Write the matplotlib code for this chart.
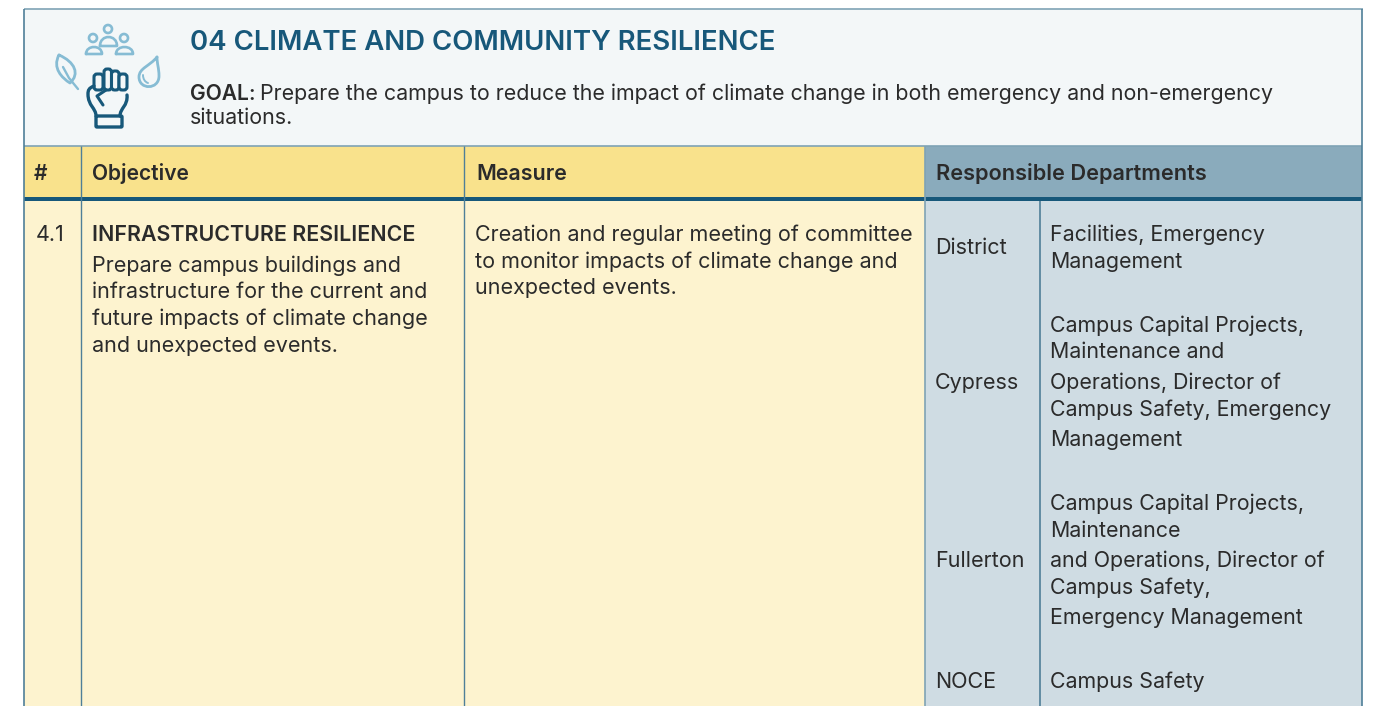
import matplotlib
matplotlib.use("Agg")
import matplotlib.pyplot as plt
from matplotlib.patches import Rectangle, Circle, PathPatch, FancyBboxPatch
from matplotlib.path import Path

TITLE = "04 CLIMATE AND COMMUNITY RESILIENCE"
GOAL_LABEL = "GOAL:"
GOAL_LINE1 = "Prepare the campus to reduce the impact of climate change in both emergency and non-emergency"
GOAL_LINE2 = "situations."
HEADERS = ["#", "Objective", "Measure", "Responsible Departments"]
ROW_NUM = "4.1"
OBJ_TITLE = "INFRASTRUCTURE RESILIENCE"
OBJ_LINES = ["Prepare campus buildings and", "infrastructure for the current and",
             "future impacts of climate change", "and unexpected events."]
MEASURE_LINES = ["Creation and regular meeting of committee",
                 "to monitor impacts of climate change and", "unexpected events."]
DEPTS = ["District", "Cypress", "Fullerton", "NOCE"]
DEPT_LINES = [
    ["Facilities, Emergency", "Management"],
    ["Campus Capital Projects,", "Maintenance and", "Operations, Director of",
     "Campus Safety, Emergency", "Management"],
    ["Campus Capital Projects,", "Maintenance", "and Operations, Director of",
     "Campus Safety,", "Emergency Management"],
    ["Campus Safety"],
]
OBJ_Y = [272, 298, 325, 352]
MEASURE_Y = [241, 268, 294]
DEPT_Y = [254, 389, 567, 688]
DEPT_LINE_Y = [[241, 268], [332, 358, 389, 416, 446], [510, 537, 567, 594, 624], [688]]

W, H = 1378, 706
FONT = "Inter"
INK, TEAL, LINE, SKY = "#2b2b2b", "#17587a", "#4f7f98", "#86bcd4"
BG = "#f3f7f8"
BODY = 15.5
plt.rcParams["font.family"] = [FONT, "DejaVu Sans"]
fig = plt.figure(figsize=(W / 100, H / 100), dpi=100, facecolor="white")
ax = fig.add_axes([0, 0, 1, 1])
ax.set_xlim(0, W)
ax.set_ylim(H, 0)
ax.axis("off")

def rect(x0, y0, x1, y1, c):
    ax.add_patch(Rectangle((x0, y0), x1 - x0, y1 - y0, fc=c, ec="none", zorder=1))

def vline(x, y0, y1, c=LINE, lw=1.0):
    ax.plot([x, x], [y0, y1], color=c, lw=lw, zorder=3, solid_capstyle="butt")

def hline(y, x0, x1, c=LINE, lw=1.0):
    ax.plot([x0, x1], [y, y], color=c, lw=lw, zorder=3, solid_capstyle="butt")

def txt(x, y, s, size=BODY, weight="normal", color=INK):
    return ax.text(x, y, s, fontsize=size, fontweight=weight, color=color,
                   va="baseline", ha="left", zorder=5)

# Panels
rect(24, 9, 1362, 146, BG)
rect(24, 146, 925, 197, "#f9e28c")
rect(925, 146, 1362, 197, "#8aabbc")
rect(24, 201, 925, H, "#fdf3cf")
rect(925, 201, 1362, H, "#cfdce3")
rect(24, 196.5, 1362, 201, TEAL)

# Rules
hline(8.8, 23.5, 1362.5, "#7fa3b5", 1.2)
hline(146, 24, 1362, "#7fa3b5", 1.2)
vline(24, 9, H, LINE, 1.2)
vline(1362, 9, H, LINE, 1.2)
for x in (81, 464):
    vline(x, 146, H, LINE, 1.0)
vline(924.6, 146, H, "#7fa3b5", 1.2)
vline(1039.6, 201, H, LINE, 1.2)

# Icon
M, C, L = Path.MOVETO, Path.CURVE4, Path.LINETO

def stroke(pts, c, lw=2.0):
    ax.plot([p[0] for p in pts], [p[1] for p in pts], color=c, lw=lw, zorder=4,
            solid_capstyle="round", solid_joinstyle="round")

def curve(verts, codes, c, lw=2.0, fc="none", z=4):
    ax.add_patch(PathPatch(Path(verts, codes), fc=fc, ec=c, lw=lw, zorder=z,
                           capstyle="round", joinstyle="round"))

def person(cx, cy, r, x0, x1, ytop, ybot):
    ax.add_patch(Circle((cx, cy), r, fc="none", ec=SKY, lw=1.9, zorder=4))
    ctrl = ybot - (ybot - ytop) / 0.75
    curve([(x0, ybot), (x0, ctrl), (x1, ctrl), (x1, ybot), (x0, ybot)],
          [M, C, C, C, L], SKY, 1.9)

person(108, 29, 4, 100, 117, 37, 46)
person(93, 38, 4, 86, 102, 47, 54)
person(124, 38, 4, 116, 133, 47, 54)
# Leaf
curve([(59, 55), (52, 68), (62, 78), (70, 83), (80, 74), (75, 62), (59, 55)],
      [M, C, C, C, C, C, C], SKY)
stroke([(63, 67), (69, 78), (78, 89)], SKY, 1.7)
# Drop
curve([(157, 57), (150, 66), (139, 68), (139, 77), (139, 90), (159, 90), (159, 76), (159, 68), (157, 64), (157, 57)],
      [M, C, C, C, C, C, C, C, C, C], SKY)
curve([(143, 75), (143, 79), (145, 82), (148, 83)], [M, C, C, C], SKY, 1.4)
# Fist
for x0, x1, top in [(94, 103, 74), (104, 111.5, 69), (111.5, 119, 71), (119, 127, 74)]:
    ax.add_patch(FancyBboxPatch((x0, top), x1 - x0, 90 - top, boxstyle="round,pad=0,rounding_size=3",
                                fc=BG, ec=TEAL, lw=2.2, zorder=4))
curve([(94, 86), (89, 88), (88, 90), (88, 94), (88, 106), (96, 108), (96, 116)],
      [M, C, C, C, C, C, C], TEAL, 2.4)
curve([(127, 95), (128, 106), (120, 108), (120, 116)], [M, C, C, C], TEAL, 2.4)
stroke([(106, 90), (97, 96), (103, 105)], TEAL, 2.2)
ax.add_patch(FancyBboxPatch((96, 116), 26, 11, boxstyle="round,pad=0,rounding_size=1",
                            fc="none", ec=TEAL, lw=2.4, zorder=4))

# Text
txt(190, 50.5, TITLE, 19.85, "semibold", TEAL)
txt(190, 100, GOAL_LABEL, 15.1, "semibold")
txt(260, 100, GOAL_LINE1, 15.4)
txt(190, 124, GOAL_LINE2, 15.4)
for x, s, size in zip((34, 92, 476, 936), HEADERS, (15.1, 15.1, 15.4, 15.6)):
    txt(x, 180, s, size, "semibold")
txt(36, 241, ROW_NUM, BODY)
txt(92, 241, OBJ_TITLE, 15.4, "semibold")
for y, s in zip(OBJ_Y, OBJ_LINES):
    txt(92, y, s)
for y, s in zip(MEASURE_Y, MEASURE_LINES):
    txt(475, y, s)
for y, s in zip(DEPT_Y, DEPTS):
    txt(935, y, s)
for ys, lines in zip(DEPT_LINE_Y, DEPT_LINES):
    for y, s in zip(ys, lines):
        txt(1050, y, s, 15.4)

fig.savefig("out.png", dpi=100, facecolor="white")
